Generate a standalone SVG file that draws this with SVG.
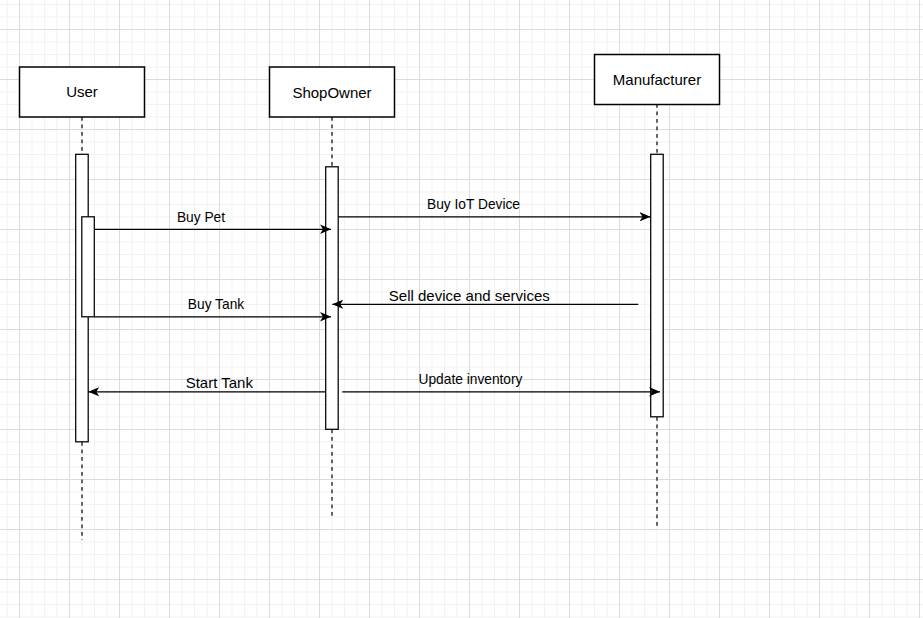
<svg xmlns="http://www.w3.org/2000/svg" width="923" height="618" viewBox="0 0 923 618">
  <defs>
    <!-- background grid: 12.5px minor cells, major line every 4 cells -->
    <pattern id="grid" x="19" y="29" width="50" height="50" patternUnits="userSpaceOnUse">
      <rect x="12.5" y="0" width="1" height="50" fill="#f2f2f2"/>
      <rect x="25" y="0" width="1" height="50" fill="#f2f2f2"/>
      <rect x="37.5" y="0" width="1" height="50" fill="#f2f2f2"/>
      <rect x="0" y="12.5" width="50" height="1" fill="#f2f2f2"/>
      <rect x="0" y="25" width="50" height="1" fill="#f2f2f2"/>
      <rect x="0" y="37.5" width="50" height="1" fill="#f2f2f2"/>
      <rect x="0" y="0" width="1" height="50" fill="#dcdcdc"/>
      <rect x="0" y="0" width="50" height="1" fill="#dcdcdc"/>
    </pattern>
    <marker id="arrow" viewBox="0 0 11 10" refX="11" refY="5" markerWidth="11" markerHeight="10" markerUnits="userSpaceOnUse" orient="auto">
      <path d="M11,5 L0,0.3 L3,5 L0,9.7 Z" fill="#000"/>
    </marker>
    <style>
      .head { fill: #fff; stroke: #000; stroke-width: 1.5; }
      .bar { fill: #fff; stroke: #000; stroke-width: 1.25; }
      .life { stroke: #333; stroke-width: 1.5; stroke-dasharray: 3.75 3.75; fill: none; }
      .msg { stroke: #000; stroke-width: 1.25; fill: none; marker-end: url(#arrow); }
      .name { font-family: "Liberation Sans", Arial, sans-serif; font-size: 15px; fill: #000; text-anchor: middle; }
      .lbl { font-family: "Liberation Sans", Arial, sans-serif; font-size: 13.75px; fill: #000; text-anchor: middle; }
      .lbl-lg { font-family: "Liberation Sans", Arial, sans-serif; font-size: 15px; fill: #000; text-anchor: middle; }
    </style>
  </defs>

  <rect width="923" height="618" fill="#fff"/>
  <rect width="923" height="618" fill="url(#grid)"/>

  <!-- lifeline: User -->
  <g id="user">
    <line class="life" x1="82" y1="117" x2="82" y2="154"/>
    <line class="life" x1="82" y1="442" x2="82" y2="540"/>
    <rect class="head" x="19.5" y="67" width="125" height="50"/>
    <text class="name" x="82" y="97">User</text>
    <rect class="bar" x="75.7" y="154.3" width="12.5" height="287.5"/>
    <rect class="bar" x="81.8" y="216.8" width="12.5" height="100"/>
  </g>

  <!-- lifeline: ShopOwner -->
  <g id="shopowner">
    <line class="life" x1="332" y1="117" x2="332" y2="167"/>
    <line class="life" x1="332" y1="429.5" x2="332" y2="517"/>
    <rect class="head" x="269.5" y="67" width="125" height="50"/>
    <text class="name" x="332" y="97.5">ShopOwner</text>
    <rect class="bar" x="325.7" y="166.8" width="12.5" height="262.5"/>
  </g>

  <!-- lifeline: Manufacturer -->
  <g id="manufacturer">
    <line class="life" x1="657" y1="104" x2="657" y2="154"/>
    <line class="life" x1="657" y1="417" x2="657" y2="528"/>
    <rect class="head" x="594.5" y="54.5" width="125" height="50"/>
    <text class="name" x="657" y="84.5">Manufacturer</text>
    <rect class="bar" x="650.7" y="154.3" width="12.5" height="262.5"/>
  </g>

  <!-- messages -->
  <g id="connectors">
    <line class="msg" x1="94.3" y1="229.3" x2="331" y2="229.3"/>
    <text class="lbl" x="201" y="222">Buy Pet</text>

    <line class="msg" x1="94.3" y1="316.8" x2="331" y2="316.8"/>
    <text class="lbl" x="216" y="309">Buy Tank</text>

    <line class="msg" x1="338.2" y1="216.8" x2="650.5" y2="216.8"/>
    <text class="lbl" x="473.5" y="208.5">Buy IoT Device</text>

    <line class="msg" x1="638.3" y1="304.3" x2="332.3" y2="304.3"/>
    <text class="lbl-lg" x="469.3" y="300.5">Sell device and services</text>

    <line class="msg" x1="342.3" y1="391.8" x2="660" y2="391.8"/>
    <text class="lbl" x="470.5" y="384">Update inventory</text>

    <line class="msg" x1="325.7" y1="391.8" x2="88.3" y2="391.8"/>
    <text class="lbl-lg" x="219.3" y="388.3">Start Tank</text>
  </g>
</svg>
